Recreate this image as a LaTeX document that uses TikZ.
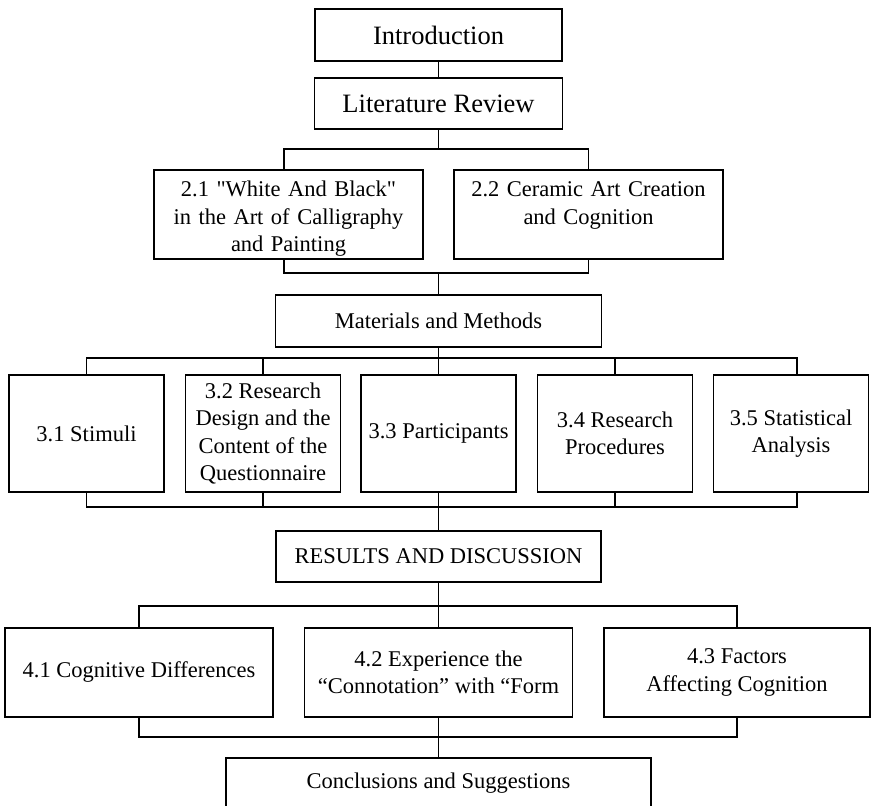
\documentclass[tikz,border=0pt]{standalone}
\usepackage{fontspec}
\setmainfont{Liberation Serif}
\tikzstyle{part box}=[draw, rectangle, line width=1.8pt, align=center, inner sep=4pt, font=\fontsize{22.5}{27.5}\selectfont]
\tikzstyle{chapter box}=[part box, font=\fontsize{26.5}{32}\selectfont]
\tikzstyle{top box}=[part box, anchor=north, inner xsep=0pt, inner ysep=5pt, text width=269pt, text height=22pt, text depth=57pt]
\tikzstyle{link}=[line width=1.8pt]

\begin{document}
\begin{tikzpicture}[x=1pt,y=-1pt]
    \useasboundingbox (0,0) rectangle (871,806);

    % Chapters
    \draw (438.5,35) node[chapter box, minimum width=247, minimum height=52] (intro) {Introduction};
    \draw (438.5,103.5) node[chapter box, minimum width=248, minimum height=51] (lit) {Literature Review};
    \draw (438.5,321) node[part box, minimum width=326, minimum height=52] (mat) {Materials and Methods};
    \draw (438.5,556.5) node[part box, minimum width=325, minimum height=51] (res) {RESULTS AND DISCUSSION};
    \draw (438.5,783) node[part box, minimum width=425, minimum height=50] (conc) {Conclusions and Suggestions};

    % Review
    \draw (288.5,169) node[top box] (s21) {2.1 \textquotedbl White And Black\textquotedbl\\in the Art of Calligraphy\\and Painting};
    \draw (588.5,169) node[top box] (s22) {2.2 Ceramic Art Creation\\and Cognition};

    % Methods
    \draw (86.5,433.5) node[part box, minimum width=155, minimum height=117] (s31) {3.1 Stimuli};
    \draw (263,433.5) node[part box, minimum width=155, minimum height=117] (s32) {3.2 Research\\Design and the\\Content of the\\Questionnaire};
    \draw (438.5,433.5) node[part box, minimum width=155, minimum height=117] (s33) {3.3 Participants};
    \draw (615,433.5) node[part box, minimum width=155, minimum height=117] (s34) {3.4 Research\\Procedures};
    \draw (791,433.5) node[part box, minimum width=155, minimum height=117] (s35) {3.5 Statistical\\Analysis};

    % Results
    \draw (139,672.5) node[part box, minimum width=268, minimum height=89] (s41) {4.1 Cognitive Differences};
    \draw (438.5,672.5) node[part box, minimum width=268, minimum height=89] (s42) {4.2 Experience the\\“Connotation” with “Form};
    \draw (737,672.5) node[part box, minimum width=266, minimum height=89] (s43) {4.3 Factors\\Affecting Cognition};

    % Forks and joins
    \coordinate (fork2) at (438.5,149);
    \coordinate (join2) at (438.5,273);
    \coordinate (fork3) at (438.5,358);
    \coordinate (join3) at (438.5,507);
    \coordinate (fork4) at (438.5,606);
    \coordinate (join4) at (438.5,737);

    % Links
    \draw[link] (intro) -- (lit);
    \draw[link] (lit) -- (fork2);
    \draw[link] ([xshift=-4.5]s21.north) |- (fork2) -| (s22.north);
    \draw[link] ([xshift=-4.5]s21.south) |- (join2) -| (s22.south);
    \draw[link] (join2) -- (mat);

    \draw[link] (mat) -- (fork3);
    \draw[link] (s31.north) |- (fork3) -| ([xshift=6]s35.north);
    \draw[link] (s32.north) -- (s32.north |- fork3);
    \draw[link] (s34.north) -- (s34.north |- fork3);
    \draw[link] (fork3) -- (s33);
    \draw[link] (s31.south) |- (join3) -| ([xshift=6]s35.south);
    \draw[link] (s32.south) -- (s32.south |- join3);
    \draw[link] (s34.south) -- (s34.south |- join3);
    \draw[link] (s33) -- (join3);
    \draw[link] (join3) -- (res);

    \draw[link] (res) -- (fork4);
    \draw[link] (s41.north) |- (fork4) -| (s43.north);
    \draw[link] (fork4) -- (s42);
    \draw[link] (s41.south) |- (join4) -| (s43.south);
    \draw[link] (s42) -- (join4);
    \draw[link] (join4) -- (conc);

\end{tikzpicture}
\end{document}
